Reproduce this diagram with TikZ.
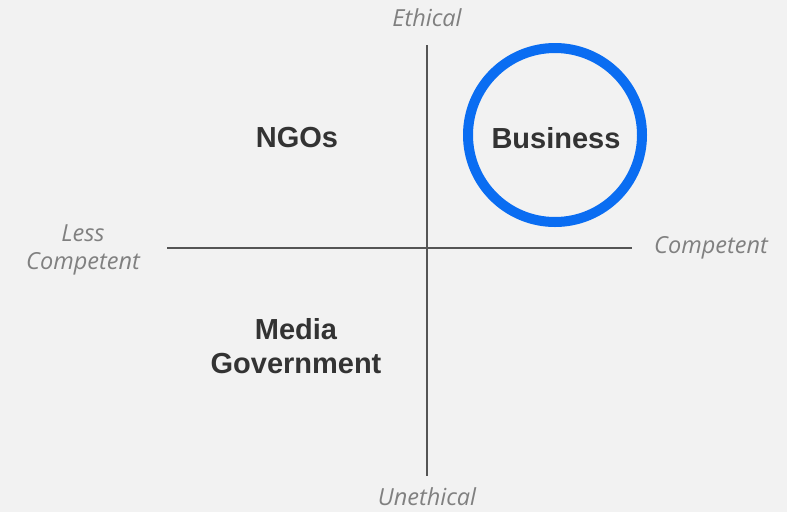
\documentclass[tikz,border=0pt]{standalone}
\usepackage{fontspec}
\setmainfont{Liberation Sans}
\newfontfamily\axisfont{Open Sans}
\definecolor{bg}{HTML}{F2F2F2}
\definecolor{axisgray}{HTML}{808080}
\definecolor{linegray}{HTML}{555555}
\definecolor{txt}{HTML}{333333}
\definecolor{ringblue}{HTML}{0A6DF2}
\begin{document}
\begin{tikzpicture}[x=1pt,y=-1pt,
  axislabel/.style={font=\axisfont\itshape\fontsize{23.5}{28}\selectfont, text=axisgray, align=center, inner sep=0pt},
  quad/.style={font=\bfseries\fontsize{29}{34}\selectfont, text=txt, align=center, inner sep=0pt},
  axisline/.style={draw=linegray, line width=1.3pt}]
\fill[bg] (0,0) rectangle (787,512);
\useasboundingbox (0,0) rectangle (787,512);
\coordinate (top) at (427,45);
\coordinate (bot) at (427,476);
\coordinate (lft) at (167,248);
\coordinate (rgt) at (632,248);
\draw[axisline] (top) -- (bot);
\draw[axisline] (lft) -- (rgt);
\node[axislabel] (eth) at (427,18) {Ethical};
\node[axislabel] (uneth) at (427,497) {Unethical};
\node[axislabel] (less) at (83,250) {Less\\Competent};
\node[axislabel] (comp) at (711,248) {Competent};
\node[draw=ringblue, line width=10pt, circle, minimum size=174pt, inner sep=0pt] (ring) at (555,135) {};
\node[quad] (biz) at (556,138) {Business};
\node[quad] (ngo) at (297,138) {NGOs};
\node[quad] (mg) at (296,346) {Media\\Government};
\end{tikzpicture}
\end{document}
